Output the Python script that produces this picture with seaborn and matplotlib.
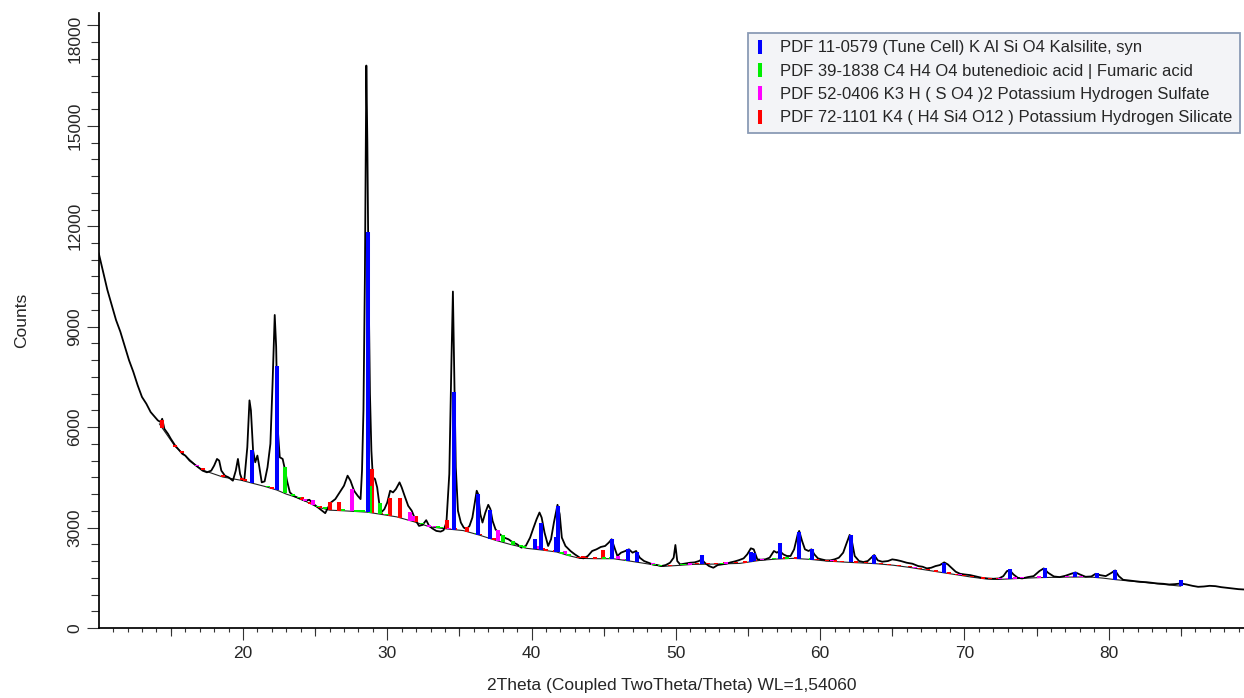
import numpy as np
import seaborn as sns
import matplotlib.pyplot as plt
import matplotlib.transforms as mtransforms
from matplotlib.lines import Line2D

# measured pattern (2theta, counts)
two_theta = [10.0, 10.3, 10.6, 10.9, 11.2, 11.5, 11.8, 12.1, 12.4, 12.7, 13.0, 13.3, 13.6, 13.9, 14.1,
             14.3, 14.4, 14.55, 14.8, 15.0, 15.3, 15.5, 15.8, 16.0, 16.3, 16.6, 16.9, 17.2, 17.5, 17.8,
             18.0, 18.2, 18.35, 18.5, 18.75, 19.0, 19.3, 19.5, 19.65, 19.8, 19.95, 20.1, 20.3, 20.45, 20.55,
             20.7, 20.85, 21.0, 21.1, 21.3, 21.5, 21.7, 21.9, 22.05, 22.2, 22.3, 22.4, 22.55, 22.75, 22.9,
             23.05, 23.25, 23.5, 23.75, 24.0, 24.3, 24.6, 24.9, 25.2, 25.5, 25.7, 25.9, 26.1, 26.4, 26.7,
             27.0, 27.25, 27.45, 27.7, 27.95, 28.15, 28.25, 28.35, 28.45, 28.55, 28.62, 28.7, 28.8, 28.9, 29.0,
             29.15, 29.3, 29.45, 29.6, 29.8, 30.0, 30.2, 30.4, 30.6, 30.85, 31.0, 31.2, 31.45, 31.7, 31.95,
             32.2, 32.45, 32.7, 32.9, 33.1, 33.4, 33.7, 33.9, 34.1, 34.3, 34.45, 34.55, 34.65, 34.75, 34.9,
             35.1, 35.3, 35.5, 35.7, 35.9, 36.05, 36.2, 36.3, 36.45, 36.6, 36.8, 37.0, 37.15, 37.3, 37.5,
             37.8, 38.1, 38.4, 38.7, 39.0, 39.3, 39.6, 39.9, 40.1, 40.35, 40.55, 40.7, 40.9, 41.15, 41.35,
             41.55, 41.8, 41.95, 42.1, 42.35, 42.7, 43.0, 43.35, 43.6, 43.9, 44.2, 44.5, 44.8, 45.1, 45.35,
             45.55, 45.75, 45.95, 46.2, 46.5, 46.75, 47.0, 47.25, 47.5, 47.8, 48.1, 48.4, 48.7, 49.0, 49.3,
             49.6, 49.85, 49.97, 50.1, 50.3, 50.7, 51.0, 51.3, 51.6, 51.8, 52.0, 52.3, 52.6, 52.9, 53.2,
             53.5, 53.8, 54.1, 54.4, 54.7, 54.95, 55.2, 55.4, 55.65, 55.9, 56.2, 56.5, 56.8, 57.0, 57.2,
             57.45, 57.7, 57.95, 58.2, 58.45, 58.55, 58.75, 58.95, 59.2, 59.4, 59.6, 59.85, 60.1, 60.4, 60.7,
             61.0, 61.3, 61.6, 61.85, 62.05, 62.2, 62.4, 62.7, 63.0, 63.3, 63.5, 63.75, 64.0, 64.3, 64.7,
             65.0, 65.3, 65.6, 66.0, 66.4, 66.8, 67.1, 67.4, 67.7, 68.0, 68.3, 68.6, 68.85, 69.1, 69.4,
             69.7, 70.0, 70.4, 70.8, 71.2, 71.6, 72.0, 72.4, 72.7, 72.95, 73.15, 73.4, 73.7, 74.0, 74.4,
             74.8, 75.2, 75.5, 75.8, 76.2, 76.6, 77.0, 77.4, 77.7, 78.0, 78.4, 78.8, 79.1, 79.4, 79.8,
             80.2, 80.45, 80.7, 81.0, 81.4, 81.8, 82.2, 82.6, 83.0, 83.4, 83.8, 84.2, 84.6, 85.0, 85.4,
             85.8, 86.2, 86.6, 87.0, 87.4, 87.8, 88.2, 88.6, 89.0, 89.4]
counts = [11200, 10650, 10100, 9650, 9200, 8850, 8420, 8000, 7650, 7250, 6900, 6700, 6450, 6300, 6200,
          6150, 6250, 5950, 5800, 5650, 5450, 5350, 5200, 5150, 5000, 4900, 4800, 4700, 4650, 4700,
          4850, 5050, 5000, 4700, 4550, 4500, 4400, 4700, 5050, 4600, 4420, 4450, 5400, 6800, 6500,
          5300, 4950, 5150, 4900, 4350, 4380, 4800, 5500, 7300, 9350, 8400, 6000, 5100, 5050, 4750,
          4400, 4050, 3950, 3900, 3850, 3800, 3830, 3700, 3600, 3500, 3430, 3600, 3750, 3850, 4050,
          4250, 4550, 4400, 4100, 3950, 3850, 4700, 6500, 10500, 16800, 14500, 10500, 7000, 5300, 4500,
          4450, 4200, 3700, 3460, 3550, 3750, 4100, 4050, 4150, 4350, 4200, 3950, 3650, 3500, 3230,
          3050, 3080, 3220, 3050, 2980, 2900, 2880, 2920, 3150, 4600, 8000, 10050, 7500, 4800, 3500,
          3150, 3000, 2950, 3050, 3300, 3700, 4100, 4000, 3400, 3150, 3450, 3680, 3550, 3200, 2950,
          2800, 2700, 2650, 2560, 2500, 2400, 2450, 2700, 2950, 3250, 3450, 3300, 2850, 2450, 2650,
          3150, 3680, 3400, 2700, 2450, 2300, 2200, 2100, 2080, 2150, 2300, 2350, 2420, 2450, 2550,
          2650, 2400, 2150, 2250, 2300, 2350, 2250, 2300, 2100, 2000, 1950, 1900, 1880, 1850, 1880,
          1950, 2100, 2480, 2000, 1900, 1930, 1950, 1960, 2000, 2050, 1950, 1850, 1800, 1880, 1900,
          1920, 1960, 1990, 2030, 2080, 2200, 2380, 2350, 2050, 2040, 2050, 2100, 2300, 2250, 2300,
          2200, 2150, 2150, 2350, 2800, 2900, 2600, 2350, 2300, 2350, 2200, 2080, 2050, 2020, 2020,
          2050, 2100, 2250, 2550, 2780, 2600, 2150, 2000, 1970, 2000, 2080, 2180, 2020, 1980, 2000,
          2050, 2030, 2000, 1950, 1920, 1850, 1830, 1780, 1800, 1850, 1880, 1960, 1900, 1800, 1680,
          1620, 1600, 1580, 1540, 1500, 1480, 1470, 1480, 1550, 1700, 1720, 1600, 1500, 1480, 1520,
          1550, 1700, 1780, 1650, 1540, 1520, 1560, 1620, 1660, 1600, 1530, 1540, 1620, 1580, 1550,
          1650, 1720, 1550, 1440, 1420, 1400, 1380, 1370, 1350, 1330, 1320, 1300, 1310, 1330, 1300,
          1260, 1230, 1240, 1260, 1250, 1220, 1200, 1180, 1160, 1150]

# fitted background
bg_theta = [14.2, 15.3, 15.8, 16.8, 17.25, 18.6, 19.9, 20.6, 21.5, 22.35, 23.0, 24.0, 25.1, 26.0, 27.0,
            28.6, 29.5, 30.65, 31.8, 32.96, 34.1, 35.27, 36.42, 37.5, 38.5, 39.66, 40.7, 41.74, 42.5, 43.35,
            44.5, 45.66, 46.8, 47.98, 49.13, 50.2, 51.2, 52.8, 54.44, 55.83, 57.0, 58.14, 59.3, 60.45, 61.6,
            62.76, 63.9, 65.07, 66.2, 67.38, 68.4, 69.46, 70.5, 71.4, 72.34, 73.8, 75.2, 77.0, 78.7, 79.6,
            80.43, 82.0, 85.0]
bg_counts = [6100, 5420, 5230, 4830, 4710, 4510, 4410, 4330, 4230, 4120, 4000, 3860, 3620, 3520, 3500,
             3460, 3400, 3320, 3180, 3020, 2960, 2910, 2770, 2620, 2500, 2380, 2330, 2270, 2170, 2080,
             2070, 2070, 2000, 1920, 1840, 1870, 1900, 1910, 1930, 2020, 2060, 2080, 2050, 2000, 1970,
             1945, 1920, 1875, 1810, 1730, 1660, 1590, 1520, 1470, 1450, 1480, 1505, 1520, 1524, 1490,
             1446, 1380, 1250]

# reference sticks: position and height above background
blue_pos = [20.6, 22.36, 28.66, 34.62, 36.31, 37.12, 40.23, 40.65, 41.67, 41.85, 45.6, 46.7, 47.28,
            51.8, 55.2, 55.4, 57.21, 58.55, 59.45, 62.14, 63.75, 68.62, 73.15, 75.58, 77.66, 79.16,
            80.43, 84.98]
blue_h = [980, 3720, 8370, 4120, 1225, 840, 300, 800, 440, 1400, 580, 340, 290,
          270, 280, 250, 470, 790, 320, 820, 250, 310, 305, 295, 150, 140,
          300, 180]

green_pos = [21.7, 22.9, 23.45, 23.9, 25.2, 25.7, 26.95, 27.83, 28.1, 28.3, 28.8, 29.49, 30.0, 32.4,
             33.5, 33.7, 36.2, 38.05, 38.7, 39.3, 39.5, 42.1, 42.6, 45.0, 45.5, 46.6, 48.5, 48.9, 50.4,
             50.6, 53.2, 56.8, 57.7, 59.4]
green_h = [40, 790, 60, 50, 50, 60, 60, 40, 40, 50, 800, 340, 40, 50,
           60, 50, 50, 210, 110, 50, 40, 40, 40, 40, 40, 40, 40, 40, 40,
           40, 40, 40, 40, 40]

magenta_pos = [16.8, 24.3, 24.83, 27.55, 28.1, 28.25, 31.6, 31.75, 32.9, 33.3, 33.6, 34.3, 37.7, 40.35,
               42.3, 42.6, 46.0, 46.5, 48.4, 51.0, 53.5, 56.0, 60.8, 66.6, 69.7, 72.5, 73.0, 73.5, 74.0,
               75.2, 75.6, 77.1, 77.6, 78.1]
magenta_h = [50, 50, 150, 680, 40, 40, 270, 150, 40, 40, 40, 40, 320, 100,
             100, 50, 100, 40, 40, 40, 40, 40, 40, 40, 50, 40, 40, 40, 40,
             40, 40, 40, 40, 40]

red_pos = [14.4, 15.3, 15.8, 17.25, 18.6, 19.9, 20.15, 22.03, 24.1, 24.65, 25.34, 26.03, 26.68, 28.96,
           29.6, 30.19, 30.88, 31.97, 34.12, 34.7, 35.54, 36.4, 37.1, 37.4, 40.8, 41.0, 41.6, 43.3, 43.6,
           43.8, 44.4, 44.97, 49.6, 50.5, 51.5, 52.2, 52.8, 53.4, 54.2, 54.8, 55.5, 56.0, 57.6, 58.3,
           59.8, 60.5, 61.0, 61.5, 62.5, 63.2, 64.2, 64.8, 65.5, 66.2, 66.9, 67.5, 68.0, 68.9, 69.5,
           70.0, 70.5, 71.3, 71.8, 72.3]
red_h = [250, 60, 60, 60, 60, 60, 60, 60, 60, 60, 60, 250, 260, 1310,
         50, 520, 580, 180, 260, 60, 140, 50, 50, 50, 80, 50, 50, 50, 60,
         50, 50, 250, 40, 40, 40, 40, 40, 40, 40, 40, 40, 40, 40, 40,
         40, 40, 40, 40, 40, 40, 40, 40, 40, 40, 40, 40, 40, 40, 40,
         40, 40, 40, 40, 40]

phases = [
    ("PDF 11-0579 (Tune Cell) K Al Si O4 Kalsilite, syn", "#0000ff", blue_pos, blue_h),
    ("PDF 39-1838 C4 H4 O4 butenedioic acid | Fumaric acid", "#00ee00", green_pos, green_h),
    ("PDF 52-0406 K3 H ( S O4 )2 Potassium Hydrogen Sulfate", "#ff00ff", magenta_pos, magenta_h),
    ("PDF 72-1101 K4 ( H4 Si4 O12 ) Potassium Hydrogen Silicate", "#ff0000", red_pos, red_h),
]

sns.set_theme(style="ticks")
plt.rcParams['font.family'] = ['Liberation Sans', 'DejaVu Sans']

fig = plt.figure(figsize=(12.44, 6.98), dpi=100)
ax = fig.add_axes([98.7 / 1244, 70 / 698, 1 - 98.7 / 1244, 615 / 698])

sns.lineplot(x=bg_theta, y=bg_counts, ax=ax, color="#222222", lw=0.8, estimator=None, sort=False, zorder=1)
sns.lineplot(x=two_theta, y=counts, ax=ax, color="black", lw=1.3, estimator=None, sort=False, zorder=2)

# sticks: red first, blue on top
for label, color, pos, h in reversed(phases):
    base = np.interp(pos, bg_theta, bg_counts)
    ax.vlines(pos, base, base + np.array(h), colors=color, lw=2.9, zorder=3, capstyle="butt")

ax.set_xlim(10, 89.38)
ax.set_ylim(0, 18370)
ax.set_xticks([20, 30, 40, 50, 60, 70, 80])
ax.set_xticks(np.arange(11, 90, 1), minor=True)
ax.set_yticks(np.arange(0, 18001, 3000))
ax.set_yticks(np.arange(0, 18001, 500), minor=True)
ax.tick_params(axis="x", which="major", length=8.6, width=0.8, color="#333333", labelsize=12.5, pad=4.5)
ax.tick_params(axis="x", which="minor", length=3.1, width=0.8, color="#333333")
ax.tick_params(axis="y", which="major", length=8.6, width=0.8, color="#333333", labelsize=12.5, pad=3)
ax.tick_params(axis="y", which="minor", length=6, width=0.8, color="#333333")
for lab in ax.get_yticklabels():
    lab.set_rotation(90)
    lab.set_va("center")
# top label pushed down inside the figure
top = ax.get_yticklabels()[-1]
top.set_transform(top.get_transform() + mtransforms.ScaledTranslation(0, -13 / 100, fig.dpi_scale_trans))

# medium ticks at the fives
sec = ax.secondary_xaxis("bottom")
sec.set_xticks([15, 25, 35, 45, 55, 65, 75, 85])
sec.set_xticklabels([])
sec.tick_params(length=6.1, width=0.8, color="#333333")
sec.spines["bottom"].set_visible(False)

sns.despine(ax=ax)
ax.spines["left"].set_color("black")
ax.spines["bottom"].set_color("black")
ax.set_xlabel("2Theta (Coupled TwoTheta/Theta) WL=1,54060", fontsize=12.5)
ax.set_ylabel("Counts", fontsize=12.5)
ax.xaxis.set_label_coords(0.5, -(678 - 628) / 615)
ax.yaxis.set_label_coords(-(98.7 - 29) / 1145.3, 0.5)

handles = [Line2D([], [], ls="none", marker="|", markersize=9.5, markeredgewidth=2.9, color=c)
           for _, c, _, _ in phases]
leg = ax.legend(handles, [p[0] for p in phases], loc="upper right", bbox_to_anchor=(0.9965, 0.9675),
                borderaxespad=0, fontsize=12, frameon=True, fancybox=False, framealpha=1,
                handlelength=0.6, handletextpad=0.9, labelspacing=0.5, borderpad=0.45)
leg.get_frame().set_facecolor("#f3f4f7")
leg.get_frame().set_edgecolor("#8a9bb5")
leg.get_frame().set_linewidth(1.3)

fig.savefig("out.png", dpi=100)
